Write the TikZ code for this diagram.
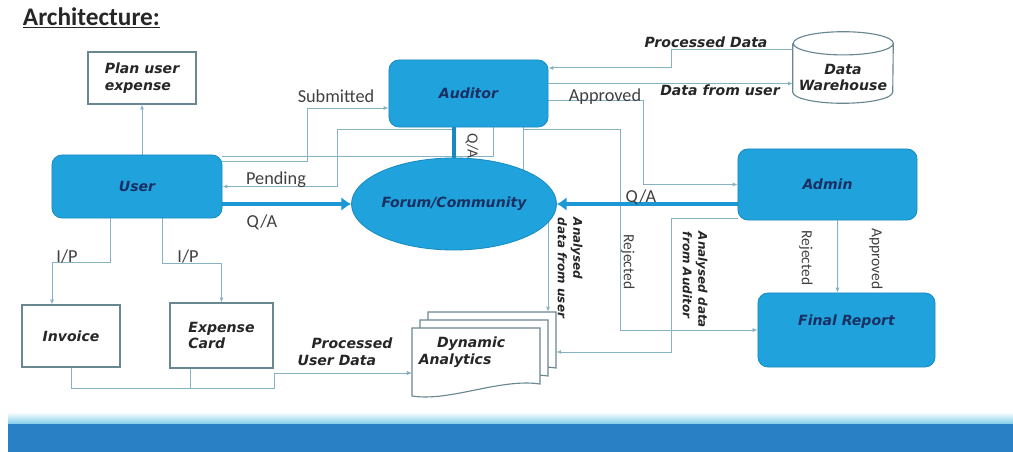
\documentclass[tikz,border=0pt]{standalone}
\usepackage{fontspec}
\setmainfont{Carlito}
\newfontfamily\boxfont{DejaVu Sans}
\usetikzlibrary{arrows.meta,calc,shapes.geometric}
\definecolor{boxblue}{RGB}{32,163,221}
\definecolor{boxedge}{RGB}{25,138,192}
\definecolor{arrowblue}{RGB}{28,152,212}
\definecolor{navy}{RGB}{26,48,98}
\definecolor{linkc}{RGB}{135,178,196}
\definecolor{edgegray}{RGB}{105,135,145}
\definecolor{bandblue}{RGB}{42,128,197}
\pgfdeclarelayer{back}
\pgfsetlayers{back,main}

\begin{document}
\begin{tikzpicture}[x=0.025cm, y=-0.025cm,
    bluebox/.style={draw=boxedge, fill=boxblue, rounded corners=0.25cm, line width=0.6pt,
      font=\boxfont\fontsize{10}{12}\selectfont\bfseries\itshape, text=navy},
    whitebox/.style={draw=edgegray, fill=white, line width=0.8pt,
      font=\boxfont\fontsize{10}{12}\selectfont\bfseries\itshape, text=black!85},
    link/.style={draw=linkc, line width=0.7pt, -{Latex[length=3.5pt,width=3pt]}},
    bigarrow/.style={draw=arrowblue, line width=3.5pt, -{Latex[length=7pt,width=10pt]}},
    lbl/.style={font=\fontsize{13}{15}\selectfont, text=black!75},
    vlbl/.style={font=\fontsize{11}{13}\selectfont, text=black!75, rotate=-90},
    ilbl/.style={font=\boxfont\fontsize{10}{12}\selectfont\bfseries\itshape, text=black!85},
  ]
  \useasboundingbox (0,0) rectangle (1013,452);

  % band at the bottom
  \shade[top color=white, bottom color={rgb,255:red,125;green,205;blue,232}] (8,412) rectangle (1013,424);
  \fill[bandblue] (8,424) rectangle (1013,452);

  \node[font=\fontsize{18}{20}\selectfont\bfseries, text=black!85, anchor=west] (title) at (18,18) {\underline{Architecture:}};

  % boxes
  \node[whitebox, minimum width=2.7cm, minimum height=1.3cm, align=left] (plan) at (142,78) {Plan user\\expense};
  \node[bluebox, minimum width=4.25cm, minimum height=1.575cm] (user) at (137,186.5) {User};
  \node[bluebox, minimum width=3.975cm, minimum height=1.675cm] (auditor) at (468.5,93.5) {Auditor};
  \node[bluebox, ellipse, sharp corners, minimum width=4.55cm, minimum height=2.3cm, inner sep=0pt] (forum) at (454,204) {Forum/Community};
  \node[bluebox, minimum width=4.425cm, minimum height=1.85cm, text depth=0.5cm] (final) at (846.5,330) {Final Report};
  \node[bluebox, minimum width=4.475cm, minimum height=1.775cm] (admin) at (827.5,184.5) {Admin};
  \node[whitebox, minimum width=2.45cm, minimum height=1.55cm] (invoice) at (71,336) {Invoice};
  \node[whitebox, minimum width=2.575cm, minimum height=1.625cm, align=left] (expense) at (221.5,335.5) {Expense\\Card};

  % data warehouse (cylinder)
  \node[minimum width=2.5cm, minimum height=1.775cm, inner sep=0pt] (dw) at (843,67.5) {};
  \draw[draw=edgegray, fill=white, line width=0.8pt]
    ([yshift=-0.29cm]dw.north west) -- ([yshift=0.28cm]dw.south west)
    arc[start angle=180, end angle=360, x radius=1.25cm, y radius=0.28cm]
    -- ([yshift=-0.29cm]dw.north east)
    arc[start angle=0, end angle=180, x radius=1.25cm, y radius=0.29cm]
    arc[start angle=180, end angle=360, x radius=1.25cm, y radius=0.29cm];
  \node[ilbl, align=center] (dwtext) at ([yshift=-0.25cm]dw.center) {Data\\Warehouse};

  % dynamic analytics (stack of documents)
  \node[minimum width=3.2cm, minimum height=1.7cm, inner sep=0pt] (dyn) at (476,362) {};
  \foreach \o in {16,8,0}
    \draw[draw=edgegray, fill=white, line width=0.8pt, shift={(\o,-\o)}]
      (412,328) -- (540,328) -- (540,384) .. controls (500,378) and (450,402) .. (412,396) -- cycle;
  \node[ilbl, align=left] (dyntext) at (462,352) {\hspace*{1.3em}Dynamic\\Analytics};

  \begin{pgfonlayer}{back}
    \draw[link] (user.north -| plan.south) -- (plan.south);
    \draw[link] ([yshift=0.6125cm]user.east) -- ++(85,0) |- ([yshift=-0.3625cm]auditor.west);
    \draw[link] (forum.north |- auditor.south) ++(0,2) -- ++(-117,0) |- (user.east);
    \draw[draw=linkc, line width=0.7pt] ([yshift=0.75cm]user.east) -| ([xshift=0.6125cm]auditor.south);
    \draw[link] ([yshift=-0.175cm]auditor.east) -- ++(95,0) |- (admin.west);
    \draw[link] ([yshift=0.25cm]auditor.east) -- ([yshift=-0.4cm]dw.west);
    \draw[link] ([yshift=0.4375cm]dw.west) -- ++(-121,0) |- ([yshift=0.6375cm]auditor.east);
    \draw[link] ([xshift=1.375cm]auditor.south) ++(0,2) -- ++(97,0) |- (final.west);
    \draw[link] ([xshift=1.375cm]auditor.south) -- ++(0,88) -| ([xshift=1.8cm,yshift=0.4cm]dyn.north);
    \draw[link] ([yshift=-0.85cm]admin.west) -- ++(-66,0) |- ([xshift=0.4cm,yshift=0.25cm]dyn.east);
    \draw[link] ([xshift=0.25cm]admin.south) -- ([xshift=-0.225cm]final.north);
    \draw[link] ([xshift=-0.675cm]user.south) -- ++(0,44) -| ([xshift=-0.475cm]invoice.north);
    \draw[link] ([xshift=0.625cm]user.south) -- ++(0,45) -| (expense.north);
    \draw[link] (invoice.south) -- ++(0,21) -| ([xshift=-3.425cm,yshift=-0.275cm]dyn.west) -- ([yshift=-0.275cm]dyn.west);
    \draw[link] ([xshift=-0.7875cm]expense.south) -- ++(0,20) -| ([xshift=-3.425cm,yshift=-0.275cm]dyn.west) -- ([yshift=-0.275cm]dyn.west);
    \draw[draw=boxedge, line width=3pt] (auditor.south -| forum.north) -- (forum.north);
    \draw[bigarrow] (user.east |- forum.west) -- (forum.west);
    \draw[bigarrow] (admin.west |- forum.east) -- (forum.east);
  \end{pgfonlayer}

  % labels
  \node[lbl] (submitted) at (336,96) {Submitted};
  \node[lbl] (pending) at (276,180) {Pending};
  \node[lbl] (qauser) at (262,222) {Q/A};
  \node[lbl] (qaadmin) at (641,197) {Q/A};
  \node[lbl] (approved) at (605,97) {Approved};
  \node[vlbl] (qaaud) at (472,146) {Q/A};
  \node[ilbl] (procdata) at (706,42) {Processed Data};
  \node[ilbl] (datauser) at (720,90) {Data from user};
  \node[lbl] (ipinv) at (67,257) {I/P};
  \node[lbl] (ipexp) at (188,257) {I/P};
  \node[ilbl, align=left] (procuser) at (345,352) {\hspace*{1em}Processed\\User Data};
  \node[ilbl, rotate=-90, align=left, font=\boxfont\fontsize{8.5}{11}\selectfont\bfseries\itshape] (anauser) at (570,268) {Analysed\\data from user};
  \node[ilbl, rotate=-90, align=left, font=\boxfont\fontsize{8.5}{11}\selectfont\bfseries\itshape] (anaaud) at (695,280) {Analysed data\\from Auditor};
  \node[vlbl] (rejaud) at (628,262) {Rejected};
  \node[vlbl] (rejadm) at (806,258) {Rejected};
  \node[vlbl] (appadm) at (876,259) {Approved};
\end{tikzpicture}
\end{document}
